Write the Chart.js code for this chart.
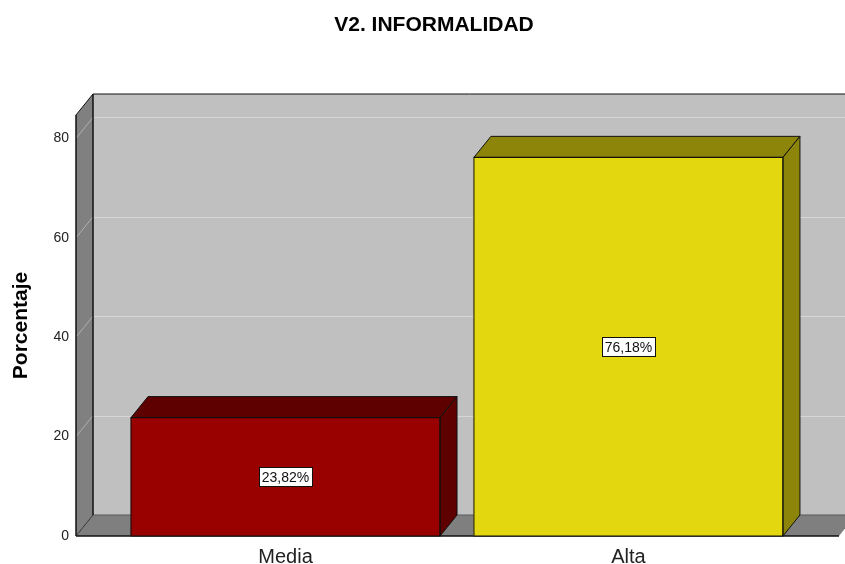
<!DOCTYPE html>
<html><head><meta charset="utf-8">
<script src="https://cdn.jsdelivr.net/npm/chart.js@4/dist/chart.umd.min.js"></script>
<style>html,body{margin:0;padding:0;background:#fff}#wrap{width:845px;height:564px}</style>
</head><body><div id="wrap"><canvas id="c" width="845" height="564"></canvas></div>
<script>
const chartTitle = 'V2. INFORMALIDAD';
const yAxisTitle = 'Porcentaje';
const categories = ['Media', 'Alta'];
const percentages = [23.82, 76.18];
const yTicks = [0, 20, 40, 60, 80];
const frontColors = ['#990000', '#e3d710'];
const shadeColors = ['#5e0000', '#8c850a'];

const DX = 17, DY = 21;
const FONT = "'Liberation Sans', Arial, sans-serif";

function poly(ctx, pts, fill, stroke, lw) {
  ctx.beginPath();
  ctx.moveTo(pts[0][0], pts[0][1]);
  for (let i = 1; i < pts.length; i++) ctx.lineTo(pts[i][0], pts[i][1]);
  ctx.closePath();
  if (fill) { ctx.fillStyle = fill; ctx.fill(); }
  if (stroke) { ctx.strokeStyle = stroke; ctx.lineWidth = lw || 1; ctx.stroke(); }
}
function line(ctx, x1, y1, x2, y2, color, lw) {
  ctx.beginPath(); ctx.moveTo(x1, y1); ctx.lineTo(x2, y2);
  ctx.strokeStyle = color; ctx.lineWidth = lw || 1; ctx.stroke();
}

const box3d = {
  id: 'box3d',
  beforeDatasetsDraw(chart) {
    const { ctx, chartArea: a, scales: { y } } = chart;
    const L = a.left, R = a.right, T = a.top, B = a.bottom;
    ctx.save();
    ctx.fillStyle = '#c0c0c0';
    ctx.fillRect(L + DX, T - DY, R - L, B - T);
    yTicks.forEach(v => {
      if (v === 0) return;
      const py = Math.round(y.getPixelForValue(v)) + 0.5;
      line(ctx, L + DX, py - DY, R + DX, py - DY, '#d6d6d6', 1);
    });
    poly(ctx, [[L, T], [L + DX, T - DY], [L + DX, B - DY], [L, B]], '#808080');
    yTicks.forEach(v => {
      if (v === 0) return;
      const py = y.getPixelForValue(v);
      line(ctx, L, py, L + DX, py - DY, '#b0b0b0', 1);
    });
    poly(ctx, [[L, B], [L + DX, B - DY], [R + DX, B - DY], [R, B]], '#7f7f7f');
    line(ctx, L + DX, B - DY, R + DX, B - DY, '#5a5a5a', 1);
    line(ctx, L + DX, T - DY, L + DX, B - DY, '#111', 1.5);
    line(ctx, L + DX, T - DY, R + DX, T - DY, '#111', 1);
    line(ctx, L, T, L + DX, T - DY, '#111', 1);
    line(ctx, L, T, L, B, '#111', 1.5);
    line(ctx, L, B, L + DX, B - DY, '#333', 1);
    line(ctx, L, B, R, B, '#111', 1.5);
    ctx.restore();
  },
  afterDatasetsDraw(chart) {
    const { ctx } = chart;
    const meta = chart.getDatasetMeta(0);
    ctx.save();
    meta.data.forEach((el, i) => {
      const p = el.getProps(['x', 'y', 'base', 'width'], true);
      const x0 = p.x - p.width / 2, x1 = p.x + p.width / 2;
      const top = p.y, base = p.base;
      poly(ctx, [[x0, top], [x0 + DX, top - DY], [x1 + DX, top - DY], [x1, top]], shadeColors[i], '#111', 1);
      poly(ctx, [[x1, top], [x1 + DX, top - DY], [x1 + DX, base - DY], [x1, base]], shadeColors[i], '#111', 1);
      ctx.strokeStyle = '#111'; ctx.lineWidth = 1;
      ctx.strokeRect(x0, top, p.width, base - top);
      const txt = percentages[i].toFixed(2).replace('.', ',') + '%';
      ctx.font = '14px ' + FONT;
      const tw = ctx.measureText(txt).width;
      const cy = (top + base) / 2;
      const bw = Math.round(tw + 6), bh = 19;
      const bx = Math.round(p.x - bw / 2) + 0.5, by = Math.round(cy - bh / 2) + 0.5;
      ctx.fillStyle = '#fff';
      ctx.fillRect(bx, by, bw, bh);
      ctx.strokeStyle = '#111'; ctx.lineWidth = 1;
      ctx.strokeRect(bx, by, bw, bh);
      ctx.fillStyle = '#111';
      ctx.textAlign = 'center'; ctx.textBaseline = 'middle';
      ctx.fillText(txt, p.x, cy + 1);
    });
    ctx.restore();
  },
  afterDraw(chart) {
    const { ctx, chartArea: a } = chart;
    ctx.save();
    ctx.font = 'bold 21px ' + FONT;
    ctx.fillStyle = '#000';
    ctx.textAlign = 'center'; ctx.textBaseline = 'middle';
    ctx.fillText(chartTitle, (a.left + a.right + DX) / 2 - 32, 25);
    ctx.restore();
  }
};

new Chart(document.getElementById('c'), {
  type: 'bar',
  data: {
    datasets: [{
      data: categories.map((c, i) => ({ x: i, y: percentages[i] })),
      backgroundColor: frontColors,
      borderColor: '#111',
      borderWidth: 0,
      barThickness: 309
    }]
  },
  options: {
    responsive: false,
    animation: false,
    devicePixelRatio: 1,
    layout: { padding: { left: 0, right: 6, top: 115, bottom: 0 } },
    plugins: {
      legend: { display: false },
      tooltip: { enabled: false },
      title: { display: false }
    },
    scales: {
      x: {
        type: 'linear', min: -0.611, max: 1.614, offset: false,
        afterBuildTicks(scale) { scale.ticks = categories.map((c, i) => ({ value: i })); },
        afterFit(scale) { scale.height = 28; },
        grid: { display: false, drawTicks: false, offset: false },
        border: { display: false },
        ticks: {
          callback: (v) => categories[v] ?? '',
          color: '#222', font: { family: FONT, size: 20 }, padding: 9,
          maxRotation: 0, autoSkip: false
        }
      },
      y: {
        min: 0, max: 84.7,
        afterBuildTicks(scale) { scale.ticks = yTicks.map(v => ({ value: v })); },
        afterFit(scale) { scale.width = 76; },
        grid: { display: false, drawTicks: false },
        border: { display: false },
        ticks: { color: '#222', font: { family: FONT, size: 14 }, padding: 7, includeBounds: false },
        title: {
          display: true, text: yAxisTitle, color: '#000',
          font: { family: FONT, size: 21, weight: 'bold' },
          padding: { top: 9, bottom: 0 }
        }
      }
    }
  },
  plugins: [box3d]
});
</script>
</body></html>
